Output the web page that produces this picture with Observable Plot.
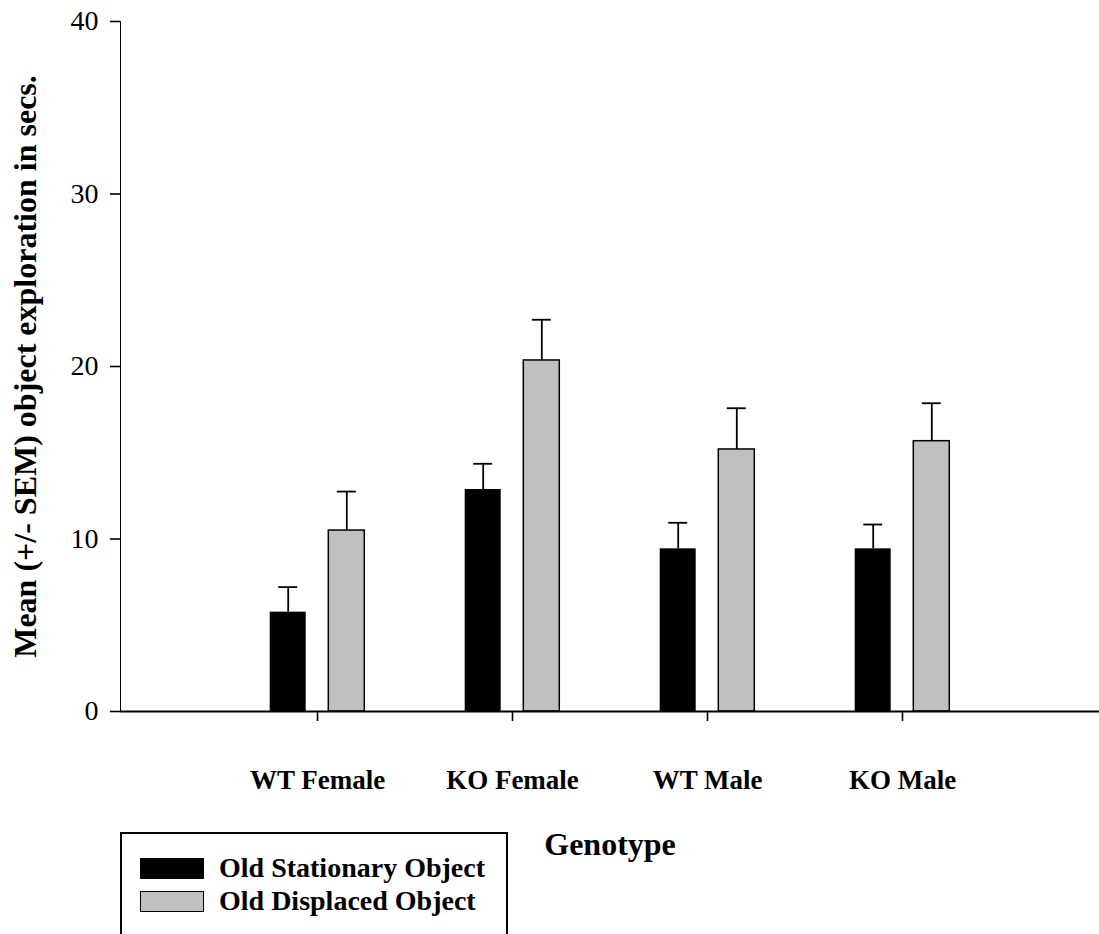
<!DOCTYPE html>
<html><head><meta charset="utf-8">
<script src="https://cdn.jsdelivr.net/npm/d3@7"></script>
<script src="https://cdn.jsdelivr.net/npm/@observablehq/plot@0.6"></script>
<style>
body{margin:0;background:#fff;font-family:"Liberation Serif","Times New Roman",serif;}
#wrap{position:relative;width:1099px;height:934px;overflow:hidden;background:#fff;}
#wrap svg{position:absolute;left:0;top:0;}
g[aria-label="y-axis tick label"]{font-size:28px;}
g[aria-label="x-axis tick label"]{font-size:27px;font-weight:bold;}
g[aria-label="x-axis label"]{font-size:32px;font-weight:bold;}
g[aria-label="y-axis label"]{font-size:32px;font-weight:bold;}
g[aria-label="y-axis tick"] *, g[aria-label="x-axis tick"] *{stroke-width:1.6px;}
g[aria-label="y-axis line"] *, g[aria-label="x-axis line"] *{stroke-width:2px;}
#legend{position:absolute;left:120px;top:832px;width:388px;height:130px;border:2px solid #000;box-sizing:border-box;}
.row{position:absolute;left:18px;height:22px;display:flex;align-items:center;}
.sw{width:64px;height:21px;box-sizing:border-box;margin-right:15px;}
.lab{font-size:28px;font-weight:bold;white-space:nowrap;line-height:22px;}
</style></head><body><div id="wrap"></div><script>
const genotypes = ["WT Female", "KO Female", "WT Male", "KO Male"];
const series = ["Old Stationary Object", "Old Displaced Object"];
const seriesColors = ["#000000", "#c0c0c0"];
const stationaryMean = [5.76, 12.87, 9.43, 9.43];
const stationarySem = [1.45, 1.49, 1.51, 1.41];
const displacedMean = [10.49, 20.35, 15.19, 15.67];
const displacedSem = [2.26, 2.36, 2.39, 2.20];
const yTicks = [0, 10, 20, 30, 40];

const means = [stationaryMean, displacedMean];
const sems = [stationarySem, displacedSem];
const offsets = [-29.3, 29.3];

const marks = [];
series.forEach((s, k) => {
  const d = genotypes.map((g, i) => ({genotype: g, series: s, mean: means[k][i], sem: sems[k][i]}));
  const dx = offsets[k];
  marks.push(Plot.ruleX(d, {x: "genotype", y1: "mean", y2: r => r.mean + r.sem, dx, stroke: "black", strokeWidth: 1.8}));
  marks.push(Plot.tickY(d, {x: "genotype", y: r => r.mean + r.sem, dx, stroke: "black", strokeWidth: 1.8, insetLeft: 8.5, insetRight: 8.5}));
  marks.push(Plot.barY(d, {x: "genotype", y: "mean", dx, fill: "series", stroke: k === 0 ? "none" : "black", strokeWidth: 1.5}));
});
marks.push(Plot.ruleY([0], {stroke: "black", strokeWidth: 2}));

const chart = Plot.plot({
  width: 1099,
  height: 870,
  marginLeft: 120,
  marginRight: 0,
  marginTop: 21,
  marginBottom: 159,
  style: {fontFamily: '"Liberation Serif","Times New Roman",serif', fontSize: "27px", color: "black", background: "white"},
  x: {domain: genotypes, paddingInner: 0.8136, paddingOuter: 0.9068, align: 0.5, tickSize: 10, tickPadding: 48, label: "Genotype", labelAnchor: "center", labelOffset: 143},
  y: {domain: [0, 40], ticks: yTicks, tickSize: 10, tickPadding: 12, line: true, label: "Mean (+/- SEM) object exploration in secs.", labelArrow: "none", labelAnchor: "center", labelOffset: 107},
  color: {domain: series, range: seriesColors},
  marks
});
const wrap = document.getElementById("wrap");
wrap.appendChild(chart);

const legend = document.createElement("div");
legend.id = "legend";
series.forEach((s, k) => {
  const row = document.createElement("div");
  row.className = "row";
  row.style.top = (k === 0 ? 23 : 56) + "px";
  const sw = document.createElement("div");
  sw.className = "sw";
  sw.style.background = seriesColors[k];
  sw.style.border = "1.5px solid #000";
  const lab = document.createElement("span");
  lab.className = "lab";
  lab.textContent = s;
  row.appendChild(sw); row.appendChild(lab);
  legend.appendChild(row);
});
wrap.appendChild(legend);
</script></body></html>
